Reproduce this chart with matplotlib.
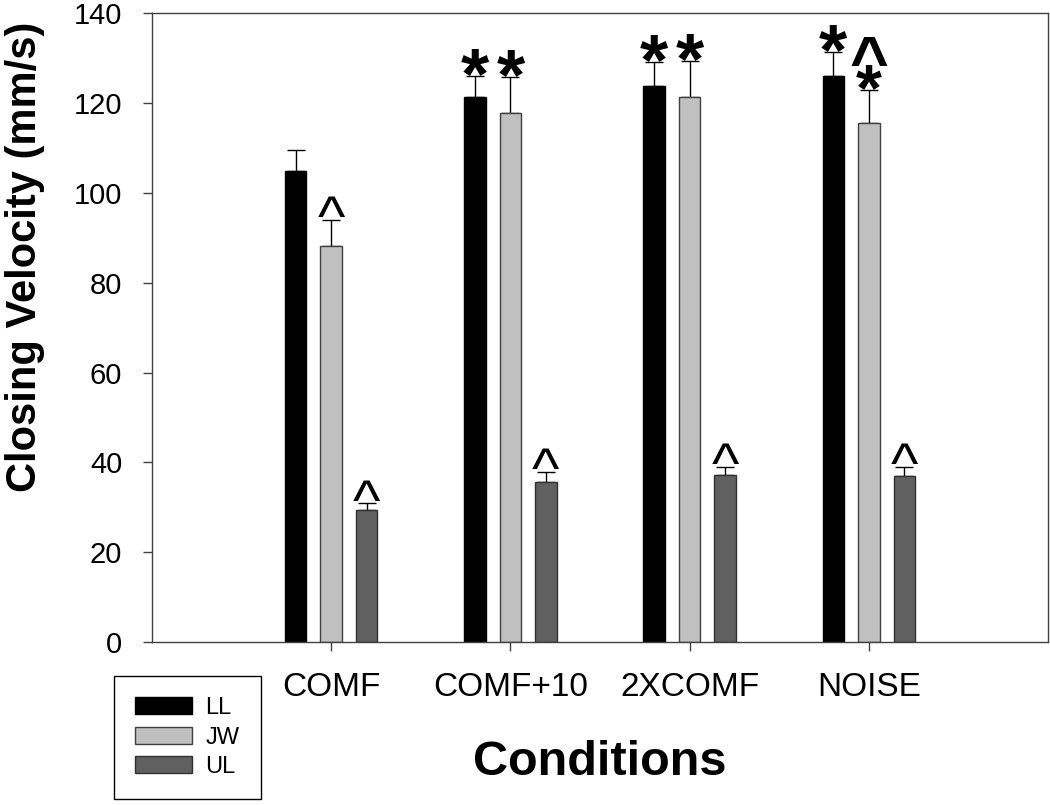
import numpy as np
import matplotlib
matplotlib.use("Agg")
import matplotlib.pyplot as plt

# Werte
conditions = ["COMF", "COMF+10", "2XCOMF", "NOISE"]
series = ["LL", "JW", "UL"]
ll_mean = [104.9, 121.3, 123.8, 126.1]
ll_err = [4.7, 4.7, 5.5, 5.4]
jw_mean = [88.1, 117.9, 121.5, 115.7]
jw_err = [6.0, 8.0, 8.0, 7.2]
ul_mean = [29.4, 35.7, 37.1, 36.9]
ul_err = [1.5, 2.2, 1.9, 2.1]
# significance marks above each bar (top line first)
ll_marks = ["", "*", "*", "*"]
jw_marks = ["^", "*", "*", "^\n*"]
ul_marks = ["^", "^", "^", "^"]
y_ticks = [0, 20, 40, 60, 80, 100, 120, 140]

plt.rcParams["font.family"] = ["Liberation Sans", "DejaVu Sans"]

fig = plt.figure(figsize=(10.5, 8.05), dpi=100)
ax = fig.add_axes([152 / 1050, 163 / 805, 896 / 1050, 628.5 / 805])

x = np.arange(1, len(conditions) + 1)
width = 0.12
step = 0.198
means = [ll_mean, jw_mean, ul_mean]
errs = [ll_err, jw_err, ul_err]
marks = [ll_marks, jw_marks, ul_marks]
fills = ["black", "#c0c0c0", "#606060"]
edges = ["black", "#404040", "#303030"]

# glyph metrics: fontsize pt, weight, glyph bottom as fraction of em, gap px
sym_style = {"*": (52, "bold", 0.40, 7),
             "^": (42, "normal", 0.36, 5)}
descent = 0.21

for i, name in enumerate(series):
    xs = x + (i - 1) * step
    ax.bar(xs, means[i], width=width, color=fills[i], edgecolor=edges[i],
           linewidth=1, label=name, zorder=2)
    ax.errorbar(xs, means[i], yerr=[np.zeros(len(xs)), errs[i]], fmt="none",
                ecolor="black", elinewidth=1, capsize=6.5, capthick=1, zorder=1)
    for xi, m, e, mk in zip(xs, means[i], errs[i], marks[i]):
        if not mk:
            continue
        lowest = mk.split("\n")[-1]
        size, weight, b, gap = sym_style[lowest]
        if "\n" in mk:
            size = 48
        em = size / 72 * 100
        ax.annotate(mk, xy=(xi, m + e), xytext=(0, gap - (b + descent) * em),
                    textcoords="offset pixels", ha="center", va="bottom",
                    fontsize=size, fontweight=weight, color="black",
                    linespacing=0.27)

ax.set_xlim(0, 5)
ax.set_ylim(0, 140)
ax.set_xticks(x)
ax.set_xticklabels(conditions, fontsize=24)
ax.set_yticks(y_ticks)
ax.set_yticklabels([str(v) for v in y_ticks], fontsize=21)
ax.tick_params(direction="out", length=6.5, width=1, color="#404040", pad=15)
for sp in ax.spines.values():
    sp.set_color("#404040")
    sp.set_linewidth(1)

ax.set_ylabel("Closing Velocity (mm/s)", fontsize=30, fontweight="bold",
              va="center")
ax.yaxis.set_label_coords((25 - 152) / 896, (642 - 257) / 628.5)
ax.set_xlabel("Conditions", fontsize=35, fontweight="bold", va="baseline")
ax.xaxis.set_label_coords(0.5, (642 - 775) / 628.5)

fig.legend(loc="upper left", bbox_to_anchor=(114 / 1050, 1 - 675.7 / 805),
           bbox_transform=fig.transFigure, frameon=True, fancybox=False,
           edgecolor="black", framealpha=1, fontsize=17, handlelength=2.4,
           handleheight=0.75, labelspacing=0.32, handletextpad=0.57,
           borderpad=0.9, borderaxespad=0)

fig.savefig("out.png", dpi=100)
